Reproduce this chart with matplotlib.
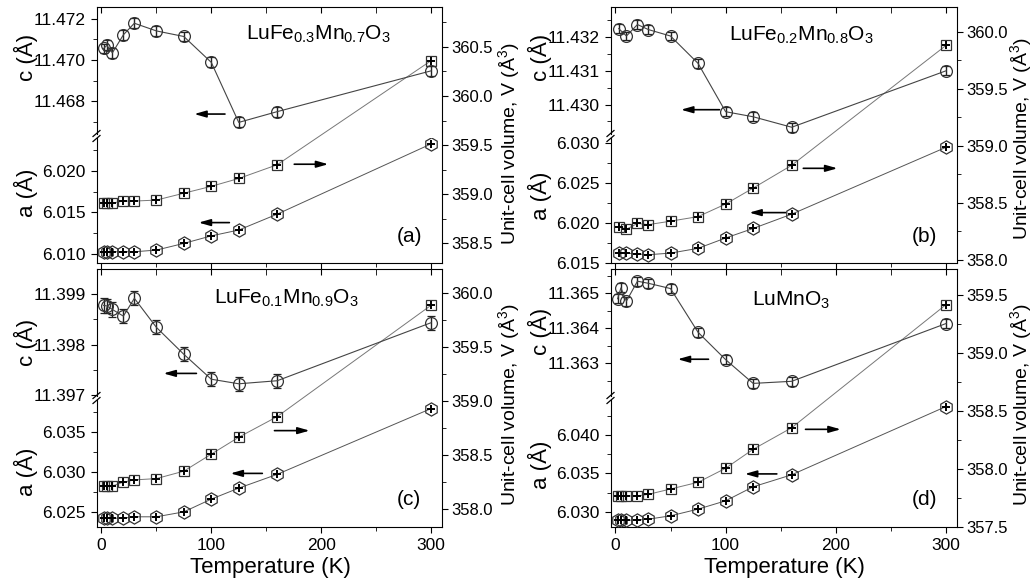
import matplotlib.pyplot as plt
from matplotlib.ticker import MultipleLocator, FormatStrFormatter
from matplotlib.lines import Line2D

plt.rcParams['font.family'] = ['Liberation Sans', 'DejaVu Sans']
plt.rcParams['mathtext.fontset'] = 'custom'
plt.rcParams['mathtext.rm'] = 'Liberation Sans'
plt.rcParams['mathtext.it'] = 'Liberation Sans:italic'

# Data
T_a = [2, 5, 10, 20, 30, 50, 75, 100, 125, 160, 300]
c_a = [11.47056, 11.47071, 11.47035, 11.47122, 11.47178, 11.47141, 11.47114, 11.46989, 11.46699, 11.46751, 11.46948]
a_a = [6.0103, 6.0103, 6.0103, 6.0103, 6.0103, 6.0105, 6.0113, 6.0122, 6.0129, 6.0148, 6.0232]
V_a = [358.91, 358.91, 358.91, 358.93, 358.93, 358.94, 359.01, 359.08, 359.16, 359.30, 360.36]

T_b = [3, 10, 20, 30, 50, 75, 100, 125, 160, 300]
c_b = [11.43225, 11.43203, 11.43237, 11.43222, 11.43203, 11.43122, 11.42979, 11.42964, 11.42933, 11.43100]
a_b = [6.0162, 6.0162, 6.0161, 6.0160, 6.0162, 6.0168, 6.0181, 6.0193, 6.0211, 6.0295]
V_b = [358.29, 358.27, 358.32, 358.31, 358.34, 358.38, 358.49, 358.63, 358.83, 359.88]

T_c = [2, 5, 10, 20, 30, 50, 75, 100, 125, 160, 300]
c_c = [11.39877, 11.39876, 11.39869, 11.39856, 11.39891, 11.39834, 11.39781, 11.39732, 11.39723, 11.39729, 11.39843]
a_c = [6.02417, 6.02417, 6.02417, 6.02417, 6.02434, 6.02434, 6.02496, 6.02656, 6.02794, 6.02967, 6.03792]
V_c = [358.21, 358.21, 358.21, 358.245, 358.266, 358.278, 358.347, 358.505, 358.662, 358.853, 359.886]

T_d = [2, 5, 10, 20, 30, 50, 75, 100, 125, 160, 300]
c_d = [11.36485, 11.36516, 11.36478, 11.36535, 11.36529, 11.36514, 11.36389, 11.36311, 11.36243, 11.36249, 11.36414]
a_d = [6.02892, 6.02892, 6.02892, 6.02892, 6.02905, 6.02948, 6.03035, 6.03143, 6.03325, 6.03481, 6.04367]
V_d = [357.768, 357.768, 357.768, 357.768, 357.782, 357.828, 357.886, 358.007, 358.171, 358.357, 359.42]

names = ['LuFe$_{0.3}$Mn$_{0.7}$O$_3$', 'LuFe$_{0.2}$Mn$_{0.8}$O$_3$',
         'LuFe$_{0.1}$Mn$_{0.9}$O$_3$', 'LuMnO$_3$']
letters = ['(a)', '(b)', '(c)', '(d)']

W, H = 1034, 584
fig = plt.figure(figsize=(W / 100, H / 100), dpi=100)


def box(l, t, r, b):
    return [l / W, 1 - b / H, (r - l) / W, (b - t) / H]


def panel(l, r, t, b, brk, T, c, a, V, cerr, clim, alim, vlim, cstep,
          name, name_xy, letter, arrows, xlabels):
    # main box: volume axis on the right + temperature axis
    axv = fig.add_axes(box(l, t, r, b))
    axv.spines['left'].set_visible(False)
    axv.set_xlim(-4, 310)
    axv.set_ylim(*vlim)
    axv.yaxis.tick_right()
    axv.xaxis.set_major_locator(MultipleLocator(100))
    axv.xaxis.set_minor_locator(MultipleLocator(50))
    axv.yaxis.set_major_locator(MultipleLocator(0.5))
    axv.yaxis.set_minor_locator(MultipleLocator(0.25))
    axv.yaxis.set_major_formatter(FormatStrFormatter('%.1f'))
    axv.tick_params(axis='x', which='both', direction='out', top=False,
                    labelbottom=xlabels, labelsize=12.5, length=4)
    axv.tick_params(axis='y', which='both', direction='out', left=False,
                    right=True, labelsize=12, pad=2)
    axv.tick_params(which='major', length=4.5)
    axv.tick_params(which='minor', length=3)
    axv.plot(T, V, '-s', ms=7.5, mfc='none', mec='#333333', mew=0.9,
             color='#777777', lw=0.7)
    axv.plot(T, V, '+', ms=6, mew=1.4, color='black')

    # upper left axis: c
    axc = fig.add_axes(box(l, t, r, brk - 2), facecolor='none')
    for s in ['top', 'right', 'bottom']:
        axc.spines[s].set_visible(False)
    axc.set_xlim(-4, 310)
    axc.set_ylim(*clim)
    axc.xaxis.set_major_locator(MultipleLocator(100))
    axc.xaxis.set_minor_locator(MultipleLocator(50))
    axc.tick_params(axis='x', which='both', top=True, bottom=False,
                    direction='in', labeltop=False, labelbottom=False, length=4)
    axc.yaxis.set_major_locator(MultipleLocator(cstep))
    axc.yaxis.set_minor_locator(MultipleLocator(cstep / 2))
    axc.yaxis.set_major_formatter(FormatStrFormatter('%.3f'))
    axc.tick_params(axis='y', which='both', direction='out', labelsize=12.5)
    axc.tick_params(axis='y', which='major', length=4.5)
    axc.tick_params(axis='y', which='minor', length=3)
    axc.errorbar(T, c, yerr=cerr, fmt='-o', ms=8.5, mfc='none', mec='#333333',
                 mew=0.9, color='#444444', lw=0.8, ecolor='#222222',
                 elinewidth=1.0, capsize=3, capthick=1.0)

    # lower left axis: a
    axa = fig.add_axes(box(l, brk + 2, r, b), facecolor='none')
    for s in ['top', 'right', 'bottom']:
        axa.spines[s].set_visible(False)
    axa.set_xlim(-4, 310)
    axa.set_ylim(*alim)
    axa.set_xticks([])
    axa.yaxis.set_major_locator(MultipleLocator(0.005))
    axa.yaxis.set_minor_locator(MultipleLocator(0.0025))
    axa.yaxis.set_major_formatter(FormatStrFormatter('%.3f'))
    axa.tick_params(axis='y', which='both', direction='out', labelsize=12.5)
    axa.tick_params(axis='y', which='major', length=4.5)
    axa.tick_params(axis='y', which='minor', length=3)
    axa.plot(T, a, '-h', ms=9.5, mfc='none', mec='#333333', mew=0.9,
             color='#555555', lw=0.7)
    axa.plot(T, a, '+', ms=6, mew=1.4, color='black')

    # axis break marks
    for dy in (-2.5, 2.5):
        fig.add_artist(Line2D([(l - 4) / W, (l + 3) / W],
                              [1 - (brk + dy + 3) / H, 1 - (brk + dy - 3) / H],
                              color='black', lw=0.9))

    # arrows pointing to the relevant axis
    for x0, x1, yf in arrows:
        axv.annotate('', xy=(x1, yf), xytext=(x0, yf),
                     xycoords=('data', 'axes fraction'),
                     arrowprops=dict(arrowstyle='-|>,head_length=0.7,head_width=0.2',
                                     color='black', lw=1.2))

    axv.text(name_xy[0], name_xy[1], name, transform=axv.transAxes,
             ha='center', va='center', fontsize=15)
    axv.text(0.905, 0.105, letter, transform=axv.transAxes,
             ha='center', va='center', fontsize=15)


# panel (a)
panel(97, 442, 7.3, 263.3, 136, T_a, c_a, a_a, V_a, 0.00024,
      (11.46643, 11.47255), (6.00892, 6.02391), (358.296, 360.904), 0.002,
      names[0], (0.64, 0.895), letters[0],
      [(115, 82, 0.583), (173, 209, 0.387), (119, 86, 0.159)], False)
# panel (b)
panel(611, 957, 7.3, 263.3, 136, T_b, c_b, a_b, V_b, 0.00013,
      (11.42913, 11.43288), (6.01492, 6.03067), (357.971, 360.214), 0.001,
      names[1], (0.55, 0.89), letters[1],
      [(97, 57, 0.60), (168, 204, 0.371), (157, 119, 0.198)], False)
# panel (c)
panel(97, 442, 269.3, 527, 398, T_c, c_c, a_c, V_c, 0.00014,
      (11.39699, 11.39948), (6.02306, 6.03900), (357.829, 360.220), 0.001,
      names[2], (0.55, 0.889), letters[2],
      [(89, 54, 0.596), (155, 192, 0.374), (149, 115, 0.208)], True)
# panel (d)
panel(611, 957, 269.3, 527, 398, T_d, c_d, a_d, V_d, 0.00013,
      (11.36207, 11.36569), (6.02803, 6.04452), (357.5, 359.725), 0.001,
      names[3], (0.52, 0.88), letters[3],
      [(87, 54, 0.651), (170, 207, 0.379), (149, 115, 0.206)], True)

# axis labels
lab = dict(rotation=90, ha='center', va='center', fontsize=16)
for x, y, s in [(26, 57, 'c (Å)'), (26, 193, 'a (Å)'),
                (540, 57, 'c (Å)'), (540, 196, 'a (Å)'),
                (26, 342, 'c (Å)'), (26, 472, 'a (Å)'),
                (540, 331, 'c (Å)'), (540, 465, 'a (Å)')]:
    fig.text(x / W, 1 - y / H, s, **lab)

vlab = dict(rotation=90, ha='center', va='center', fontsize=14)
for x, y in [(509, 143), (1021, 138), (509, 404), (1021, 404)]:
    fig.text(x / W, 1 - y / H, 'Unit-cell volume, V (Å$^3$)', **vlab)

for x in (270, 784):
    fig.text(x / W, 1 - 567 / H, 'Temperature (K)', ha='center', va='center',
             fontsize=16)

fig.savefig('out.png', dpi=100)
